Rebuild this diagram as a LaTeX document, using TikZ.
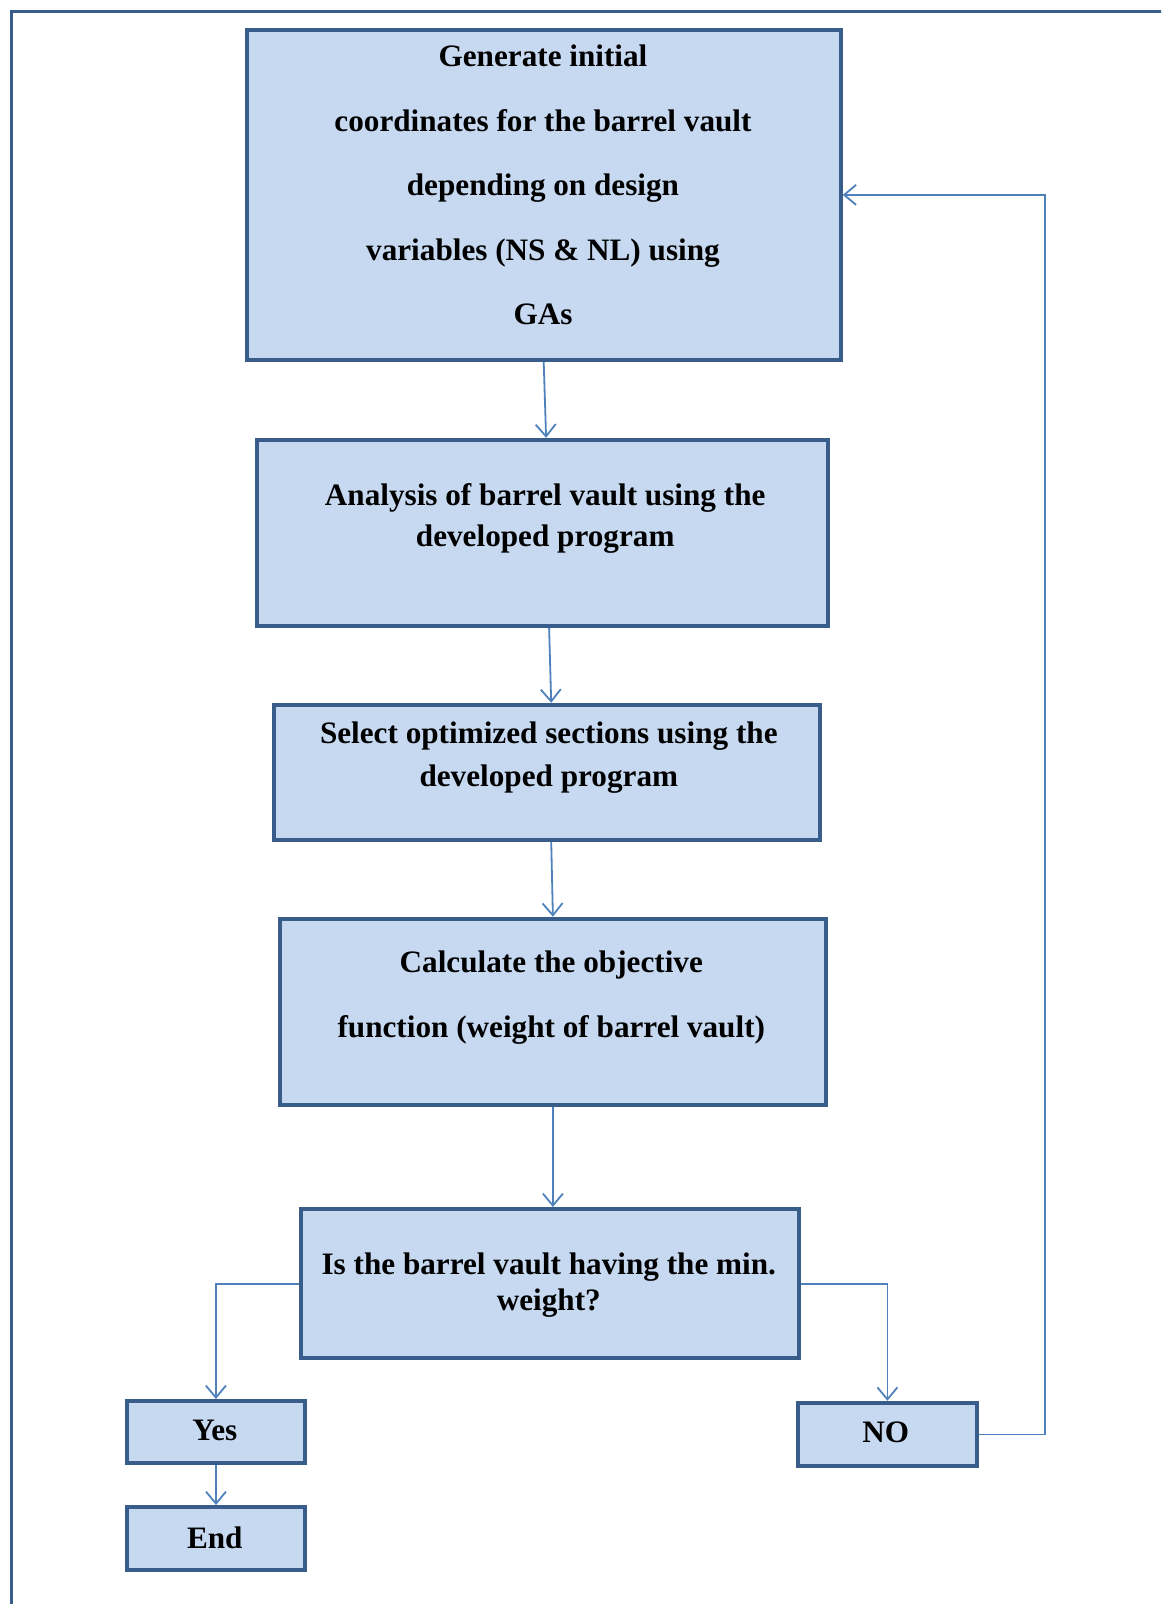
\documentclass[tikz,border=0pt]{standalone}
\usepackage{fontspec}
\setmainfont{Liberation Serif}
\usetikzlibrary{arrows.meta}
\definecolor{boxfill}{HTML}{C6D9F1}
\definecolor{boxline}{HTML}{385D8A}
\definecolor{arrowline}{HTML}{4F81BD}
\begin{document}
\begin{tikzpicture}[x=0.5pt,y=-0.5pt,
  box/.style={draw=boxline, fill=boxfill, line width=2pt, inner sep=0pt},
  txt/.style={font=\bfseries\fontsize{15.6pt}{#1pt}\selectfont, align=center, inner sep=0pt, text=black},
  txt/.default=18,
  conn/.style={draw=arrowline, line width=0.9pt, -{Straight Barb[length=6pt,width=10pt]}}]
\useasboundingbox (0,0) rectangle (1161,1604);
\clip (0,0) rectangle (1161,1604);
% outer frame
\draw[boxline, line width=1.7pt] (11.5,1650) |- (1220,11.5);
% boxes
\node[box, minimum width=297pt, minimum height=165pt] (b1) at (543.7,194.9) {};
\node[box, minimum width=285.4pt, minimum height=93.1pt] (b2) at (542.1,532.9) {};
\node[box, minimum width=273.2pt, minimum height=67.5pt] (b3) at (547.2,772.3) {};
\node[box, minimum width=272.6pt, minimum height=93pt] (b4) at (552.9,1011.7) {};
\node[box, minimum width=249.1pt, minimum height=74.7pt] (b5) at (549.8,1283.7) {};
\node[box, minimum width=89pt, minimum height=31pt] (yes) at (215.9,1432) {};
\node[box, minimum width=89pt, minimum height=31.5pt] (fin) at (216,1538.5) {};
\node[box, minimum width=89.35pt, minimum height=31.65pt] (no) at (887.4,1434.4) {};
% texts
\node[txt=32.25] (t1) at (543,185) {Generate initial\\coordinates for the barrel vault\\depending on design\\variables (NS \& NL) using\\GAs};
\node[txt=20.5] (t2) at (545.2,518) {Analysis of barrel vault using the\\developed program};
\node[txt=21.5] (t3) at (548.8,757.5) {Select optimized sections using the\\developed program};
\node[txt=32.2] (t4) at (551.3,997.5) {Calculate the objective\\function (weight of barrel vault)};
\node[txt=17.9] (t5) at (548.8,1285) {Is the barrel vault having the min.\\weight?};
\node[txt] (t6) at (214.8,1430) {Yes};
\node[txt] (t7) at (214.8,1537.5) {End};
\node[txt] (t8) at (885.8,1432) {NO};
% connectors
\coordinate (r) at (1045,0);
\draw[conn] (b1.south) -- ([xshift=2pt]b2.north);
\draw[conn] ([xshift=3.5pt]b2.south) -- ([xshift=2pt]b3.north);
\draw[conn] ([xshift=2pt]b3.south) -- (b4.north);
\draw[conn] (b4.south) -- (b4.south |- b5.north);
\draw[conn] (b5.west) -| (yes.north);
\draw[conn] (b5.east) -| (no.north);
\draw[conn] (yes.south) -- (fin.north);
\draw[conn] (no.east) -| (r |- b1.east) -- (b1.east);
\end{tikzpicture}
\end{document}
